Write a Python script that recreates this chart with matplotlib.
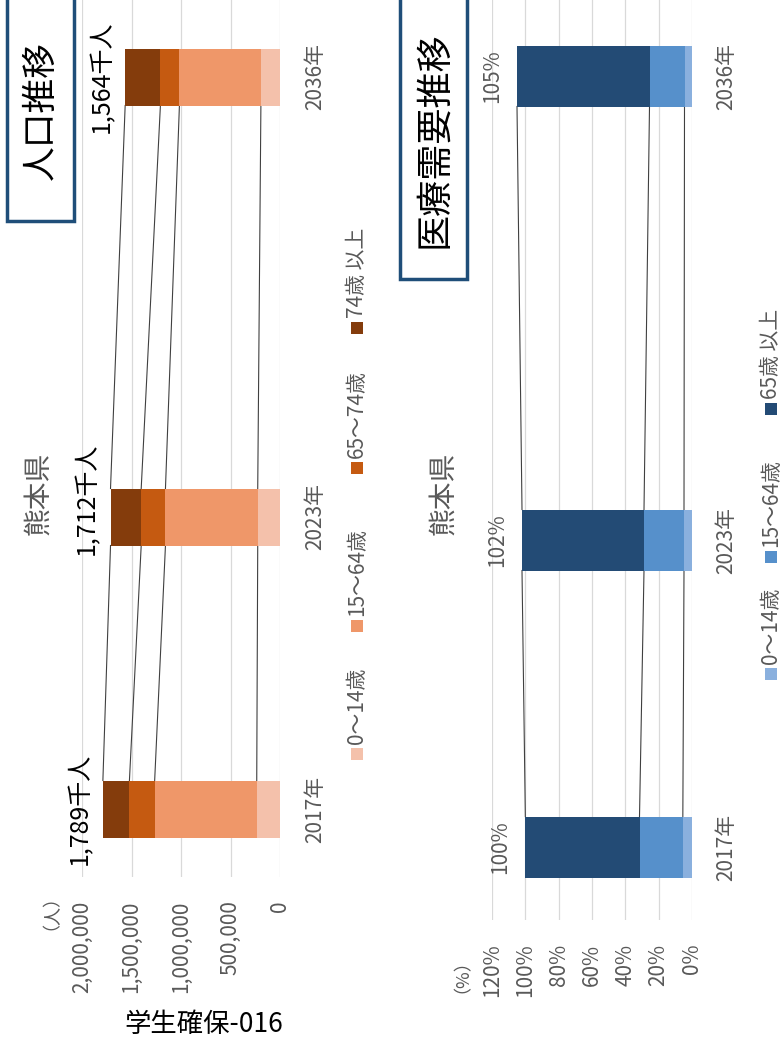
import matplotlib
matplotlib.use('Agg')
import matplotlib.pyplot as plt
import matplotlib.transforms as mtransforms
from matplotlib.patches import Rectangle
import numpy as np

plt.rcParams['font.family'] = ['Noto Sans CJK JP', 'DejaVu Sans']

W, H = 783, 1049
GRAY = '#595959'
LINE = '#404040'

years = ['2017年', '2023年', '2036年']

# 人口推移 (千人)
pop_groups = ['0〜14歳', '15〜64歳', '65〜74歳', '74歳 以上']
pop_0_14 = [235, 225, 193]
pop_15_64 = [1031, 932, 823]
pop_65_74 = [255, 245, 192]
pop_75 = [268, 310, 356]
pop_totals = ['1,789千人', '1,712千人', '1,564千人']
pop_colors = ['#F4C1AB', '#EF9769', '#C55A11', '#843C0C']
pop_ticks = [0, 500000, 1000000, 1500000, 2000000]

# 医療需要推移 (%)
med_groups = ['0〜14歳', '15〜64歳', '65歳 以上']
med_0_14 = [5.5, 4.8, 4.5]
med_15_64 = [26.0, 24.0, 21.0]
med_65 = [68.5, 73.2, 79.5]
med_totals = ['100%', '102%', '105%']
med_colors = ['#8AB0DE', '#5690CB', '#234B75']
med_ticks = [0, 20, 40, 60, 80, 100, 120]


def fx(x):
    return x / W


def fy(y):
    return 1 - y / H


def stacked(ax, series, colors, pos, height, scale):
    pos = np.array(pos, dtype=float)
    left = np.zeros(len(pos))
    edges = []
    for vals, c in zip(series, colors):
        v = np.array(vals, dtype=float) * scale
        ax.barh(pos, v, left=left, height=height, color=c, zorder=3)
        left = left + v
        edges.append(left.copy())
    # series lines between bars
    for e in edges:
        for i in range(len(pos) - 1):
            ax.plot([e[i], e[i + 1]], [pos[i] + height / 2, pos[i + 1] - height / 2],
                    color=LINE, lw=0.8, zorder=2)
    return left


def style_axis(ax, ticks, labels):
    ax.set_xticks(ticks)
    ax.set_xticklabels(labels, rotation=90, color=GRAY, fontsize=15)
    ax.tick_params(axis='x', length=0, pad=17)
    ax.set_yticks([])
    for s in ax.spines.values():
        s.set_visible(False)
    ax.xaxis.grid(True, color='#D9D9D9', lw=0.9)
    ax.set_axisbelow(True)
    ax.set_facecolor('none')


fig = plt.figure(figsize=(W / 100, H / 100), dpi=100)
fig.patch.set_facecolor('white')

# ---- left: 人口推移 ----
ax1 = fig.add_axes([fx(82), fy(877), (280 - 82) / W, 877 / H])
pos1 = [68, 360, 800]
tot1 = stacked(ax1, [pop_0_14, pop_15_64, pop_65_74, pop_75], pop_colors, pos1, 57, 1000)
ax1.set_xlim(2000000, 0)
ax1.set_ylim(0, 877)
style_axis(ax1, pop_ticks, [f'{t:,}' for t in pop_ticks])
for p, t, lab, dy in zip(pos1, tot1, pop_totals, [0, 18, 0]):
    ax1.annotate(lab, (t, p), xytext=(-23, dy), textcoords='offset pixels',
                 rotation=90, ha='center', va='center', fontsize=18, color='black')
tr1 = mtransforms.blended_transform_factory(fig.transFigure, ax1.transData)
for p, y in zip(pos1, years):
    ax1.text(fx(315), p, y, transform=tr1, rotation=90, ha='center', va='center',
             fontsize=15, color=GRAY)

# ---- right: 医療需要推移 ----
ax2 = fig.add_axes([fx(492), fy(920), (692 - 492) / W, 920 / H])
pos2 = [73, 380, 844]
tot2 = stacked(ax2, [med_0_14, med_15_64, med_65], med_colors, pos2, 61, 1)
ax2.set_xlim(120, 0)
ax2.set_ylim(0, 920)
style_axis(ax2, med_ticks, [f'{t}%' for t in med_ticks])
for p, t, lab in zip(pos2, tot2, med_totals):
    ax2.annotate(lab, (t, p), xytext=(-25, 0), textcoords='offset pixels',
                 rotation=90, ha='center', va='center', fontsize=15, color=GRAY)
tr2 = mtransforms.blended_transform_factory(fig.transFigure, ax2.transData)
for p, y in zip(pos2, years):
    ax2.text(fx(726), p, y, transform=tr2, rotation=90, ha='center', va='center',
             fontsize=15, color=GRAY)

# ---- title boxes ----
for (x0, x1, y1, title, fs) in [(7, 74, 221, '人口推移', 25), (400, 467, 279, '医療需要推移', 26)]:
    fig.patches.append(Rectangle((fx(x0), fy(y1)), (x1 - x0) / W, (y1 + 5) / H,
                                 transform=fig.transFigure, facecolor='white',
                                 edgecolor='#1F4E79', lw=2.5, zorder=5))
    fig.text(fx((x0 + x1) / 2 + 1), fy(y1 / 2), title, rotation=90, ha='center', va='center',
             fontsize=fs, color='black', zorder=6)

# chart titles
for x in (38, 443):
    fig.text(fx(x), fy(493), '熊本県', rotation=90, ha='center', va='center',
             fontsize=20, color=GRAY)

# axis unit labels
fig.text(fx(42), fy(876), '（人）', rotation=90, rotation_mode='anchor',
         ha='right', va='center', fontsize=13, color=GRAY)
fig.text(fx(453), fy(940), '（%）', rotation=90, rotation_mode='anchor',
         ha='right', va='center', fontsize=13, color=GRAY)

# ---- legends ----
def legend(xc, ycs, labels, colors):
    for yc, lab, c in zip(ycs, labels, colors):
        fig.patches.append(Rectangle((fx(xc - 6), fy(yc + 6)), 12 / W, 12 / H,
                                     transform=fig.transFigure, facecolor=c, edgecolor='none'))
        fig.text(fx(xc), fy(yc - 10), lab, rotation=90, rotation_mode='anchor',
                 ha='left', va='center', fontsize=15, color=GRAY)


legend(357, [754, 626, 468, 328], pop_groups, pop_colors)
legend(771, [674, 557, 409], med_groups, med_colors)

fig.text(fx(204), fy(1024), '学生確保-016', ha='center', va='center', fontsize=19, color='black')

fig.savefig('out.png', dpi=100, facecolor='white')
